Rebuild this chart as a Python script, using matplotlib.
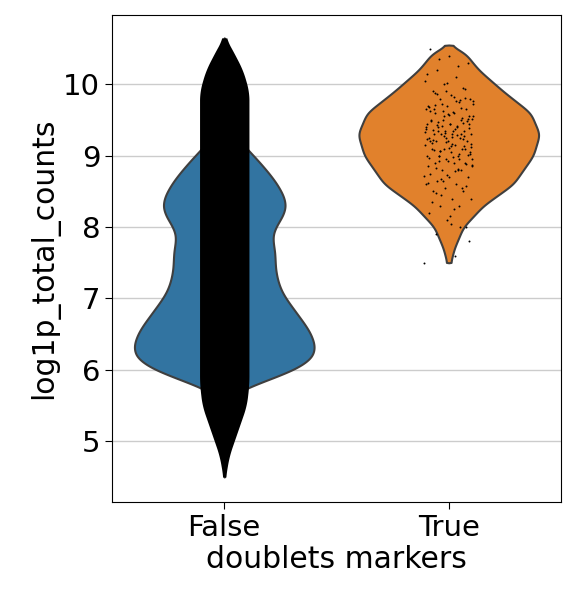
import numpy as np
import matplotlib
matplotlib.use("Agg")
import matplotlib.pyplot as plt

categories = ["False", "True"]
# violin density profiles (value, relative half-width 0..1)
false_y = [4.5, 5.5, 5.65, 5.8, 6.0, 6.2, 6.5, 6.8, 7.1, 7.4, 7.7, 7.9, 8.1, 8.3, 8.6, 8.9, 9.2, 9.4, 9.7, 10.0, 10.65]
false_w = [0.0, 0.01, 0.05, 0.33, 0.78, 1.0, 0.95, 0.78, 0.61, 0.55, 0.55, 0.5, 0.61, 0.69, 0.58, 0.39, 0.17, 0.05, 0.02, 0.01, 0.0]
true_y = [7.5, 7.7, 8.0, 8.3, 8.6, 9.0, 9.3, 9.6, 9.9, 10.2, 10.45, 10.55]
true_w = [0.02, 0.06, 0.16, 0.38, 0.71, 0.93, 1.0, 0.9, 0.6, 0.33, 0.17, 0.0]
# strip extent for dense False cells (value, relative half-width of jitter band)
false_strip_y = [4.5, 4.8, 5.2, 5.5, 5.8, 9.9, 10.2, 10.5, 10.65]
false_strip_w = [0.05, 0.2, 0.6, 0.9, 1.0, 1.0, 0.75, 0.3, 0.05]
# True cells (log1p_total_counts)
true_vals = [7.5, 7.6, 7.9, 8.0, 8.1, 8.2, 8.3, 8.3, 8.4, 8.4, 8.5, 8.5, 8.55, 8.6, 8.6, 8.65, 8.7, 8.7,
             8.75, 8.8, 8.8, 8.85, 8.9, 8.9, 8.9, 8.95, 9.0, 9.0, 9.0, 9.05, 9.05, 9.1, 9.1, 9.1, 9.15,
             9.15, 9.2, 9.2, 9.2, 9.25, 9.25, 9.3, 9.3, 9.3, 9.3, 9.35, 9.35, 9.4, 9.4, 9.4, 9.45, 9.45,
             9.5, 9.5, 9.5, 9.55, 9.6, 9.6, 9.65, 9.7, 9.7, 9.75, 9.8, 9.8, 9.85, 9.9, 9.95, 10.0, 10.05,
             10.1, 10.2, 10.3, 10.4, 10.5, 8.0, 8.45, 8.95, 9.35, 9.65, 9.1, 9.25, 9.45, 8.8, 9.0, 9.55,
             8.15, 8.35, 8.55, 8.65, 8.72, 8.78, 8.83, 8.88, 8.92, 8.97, 9.02, 9.07, 9.12, 9.17, 9.22,
             9.27, 9.32, 9.37, 9.42, 9.47, 9.52, 9.57, 9.62, 9.67, 9.72, 9.77, 9.82, 9.88, 9.93, 10.02,
             8.62, 8.82, 8.93, 9.03, 9.13, 9.18, 9.23, 9.28, 9.33, 9.38, 9.43, 9.48, 9.58, 9.68, 9.78,
             8.68, 8.87, 8.98, 9.08, 9.14, 9.19, 9.24, 9.29, 9.34, 9.39, 9.44, 9.49, 9.53, 9.63, 9.73,
             8.25, 8.48, 8.58, 8.73, 8.86, 8.96, 9.06, 9.16, 9.26, 9.36, 9.46, 9.56, 9.66, 9.76, 9.86,
             9.01, 9.11, 9.21, 9.31, 9.41, 9.51, 9.61, 9.71, 9.81, 9.91, 10.15, 10.25, 10.35, 7.8, 8.05]

colors = ["#3274a1", "#e1812c"]
fig = plt.figure(figsize=(5.77, 6.05), dpi=100)
ax = fig.add_axes([112/577, 103/605, 449/577, 487/605])
ax.set_xlim(-0.5, 1.5)
ax.set_ylim(4.15, 10.97)
ax.yaxis.grid(True, color="#cccccc", lw=1)
ax.set_axisbelow(True)

def smooth(v, k=25):
    ker = np.ones(k) / k
    pad = np.pad(v, k, mode="edge")
    return np.convolve(pad, ker, mode="same")[k:-k]

maxw = 0.4
for i, (ys, ws) in enumerate([(false_y, false_w), (true_y, true_w)]):
    yy = np.linspace(ys[0], ys[-1], 600)
    ww = smooth(smooth(np.interp(yy, ys, ws)))
    ww = ww / ww.max() * maxw
    ww[0] = ww[-1] = 0
    ax.fill_betweenx(yy, i - ww, i + ww, facecolor=colors[i], edgecolor="#3f3f3f", lw=1.5, zorder=2)

yy = np.linspace(false_strip_y[0], false_strip_y[-1], 600)
ww = smooth(np.interp(yy, false_strip_y, false_strip_w)) * 0.11
ax.fill_betweenx(yy, -ww, ww, color="black", lw=0, zorder=3)

n = len(true_vals)
jit = ((np.arange(n) * 0.618034) % 1 - 0.5) * 0.22
ax.scatter(1 + jit, true_vals, s=2, c="black", zorder=3, lw=0)

ax.set_xticks([0, 1])
ax.set_xticklabels(categories)
ax.set_yticks([5, 6, 7, 8, 9, 10])
ax.tick_params(labelsize=21, length=5)
ax.set_ylabel("log1p_total_counts", fontsize=21.5, labelpad=3)
ax.set_xlabel("doublets markers", fontsize=21.5, labelpad=2)
fig.savefig("out.png", dpi=100)
